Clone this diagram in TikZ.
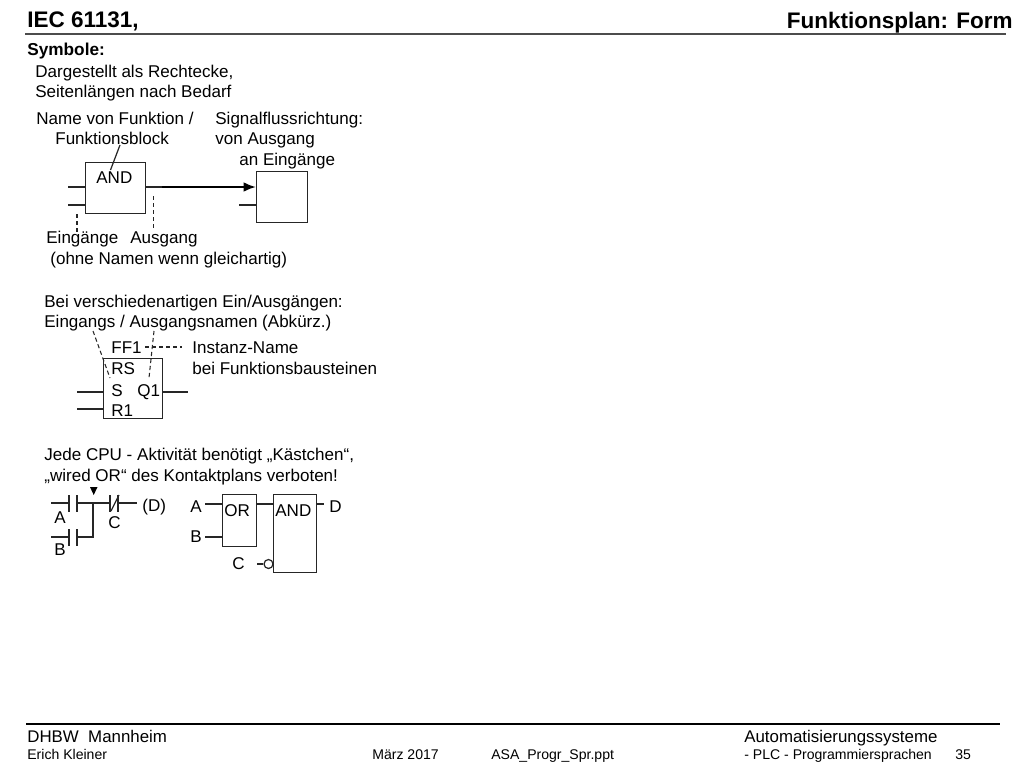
\documentclass[tikz,border=0pt]{standalone}
\usepackage{fontspec}
\setmainfont{Liberation Sans}
\usetikzlibrary{arrows,arrows.meta,calc,positioning}
\tikzset{
  txt/.style={anchor=base west,inner sep=0pt,font=\fontsize{9.7}{11}\selectfont},
  txtbig/.style={anchor=base west,inner sep=0pt,font=\fontsize{12.8}{14}\selectfont\bfseries},
  txtfoot/.style={anchor=base west,inner sep=0pt,font=\fontsize{9.6}{11}\selectfont},
  txtsmall/.style={anchor=base west,inner sep=0pt,font=\fontsize{8}{10}\selectfont},
  blk/.style={draw=black!85,line width=0.7pt,anchor=north west,inner sep=0pt},
  lin/.style={draw=black!85,line width=0.7pt},
  dsh/.style={draw=black!85,line width=0.6pt,dash pattern=on 2.4pt off 1.6pt},
}
\begin{document}
\begin{tikzpicture}[x=0.02cm,y=-0.02cm]
\useasboundingbox (0,0) rectangle (1024,768);
%Kopf und Fuss
\node[txtbig] (titel) at (27,27) {IEC 61131,};
\node[txtbig,anchor=base east] (form) at (1013,28) {Funktionsplan: Form};
\coordinate (kopfL) at (25,34);
\coordinate (kopfR) at (1006,34);
\draw[black!70,line width=0.8pt] (kopfL) -- (kopfR);
\coordinate (fussL) at (26,724);
\coordinate (fussR) at (1000,724);
\draw[black,line width=0.8pt] (fussL) -- (fussR);
\node[txtfoot] (dhbw) at (27,742) {DHBW\ \ Mannheim};
\node[txtfoot] (auto) at (744,742) {Automatisierungssysteme};
\node[txtsmall] (erich) at (27,759.5) {Erich Kleiner};
\node[txtsmall] (datum) at (372,759.5) {März 2017};
\node[txtsmall] (datei) at (491,759.5) {ASA\_Progr\_Spr.ppt};
\node[txtsmall] (plc) at (744,759.5) {- PLC - Programmiersprachen};
\node[txtsmall] (seite) at (955,759.5) {35};
%Symbole
\node[txt,font=\fontsize{9.8}{11}\selectfont\bfseries] (symbole) at (27,55) {Symbole:};
\node[txt] (darg) at (35,77.5) {Dargestellt als Rechtecke,};
\node[txt] (seitenl) at (35,97.5) {Seitenlängen nach Bedarf};
\node[txt] (name) at (36,124) {Name von Funktion /};
\node[txt] (fblock) at (55,144) {Funktionsblock};
\node[txt] (signal) at (215,124) {Signalflussrichtung:};
\node[txt] (vonaus) at (215,144) {von Ausgang};
\node[txt] (anein) at (239,165) {an Eingänge};
\node[blk,minimum width=1.2cm,minimum height=1.02cm] (andblk) at (85,162) {};
\node[blk,minimum width=1.02cm,minimum height=1.02cm] (zielblk) at (256,171) {};
\node[txt] (andtxt) at (96,183) {AND};
\coordinate (e1) at (68,187);
\coordinate (e2) at (68,205);
\coordinate (e3) at (239,205);
\coordinate (a1) at (162,187);
\coordinate (z1) at (256,187);
\draw[lin] (e1) -- (e1 -| andblk.west);
\draw[lin] (e2) -- (e2 -| andblk.west);
\draw[lin] (e3) -- (e3 -| zielblk.west);
\draw[lin] (a1 -| andblk.east) -- (a1);
\draw[black,line width=1.2pt,-{Latex[length=7pt,width=5.5pt]}] (a1) -- (z1);
\coordinate (n1) at (120,145);
\coordinate (n2) at (110.5,170);
\draw[lin] (n1) -- (n2);
\coordinate (d1) at (77,214);
\coordinate (d2) at (77,232);
\coordinate (d3) at (153.5,196);
\coordinate (d4) at (153.5,229);
\draw[dsh] (d1) -- (d2);
\draw[dsh] (d3) -- (d4);
\node[txt] (eing) at (46,243) {Eingänge};
\node[txt] (ausg) at (130,243) {Ausgang};
\node[txt] (ohne) at (50,264) {(ohne Namen wenn gleichartig)};
%Verschiedenartige Ein/Ausgaenge
\node[txt] (bei) at (44,307) {Bei verschiedenartigen Ein/Ausgängen:};
\node[txt] (eingn) at (44,327) {Eingangs / Ausgangsnamen (Abkürz.)};
\node[blk,minimum width=1.18cm,minimum height=1.2cm] (rsblk) at (103,358) {};
\node[txt] (ff) at (111,353) {FF1};
\node[txt] (inst) at (192,353) {Instanz-Name};
\node[txt] (bfb) at (192,374) {bei Funktionsbausteinen};
\node[txt] (rs) at (111,374) {RS};
\node[txt] (s) at (111,396) {S};
\node[txt] (q) at (137,396) {Q1};
\node[txt] (r) at (111,416) {R1};
\coordinate (s1) at (77,392);
\coordinate (s2) at (77,409);
\coordinate (s3) at (188,392);
\draw[lin] (s1) -- (s1 -| rsblk.west);
\draw[lin] (s2) -- (s2 -| rsblk.west);
\draw[lin] (s3 -| rsblk.east) -- (s3);
\coordinate (h1) at (93,331);
\coordinate (h2) at (110,378);
\coordinate (h3) at (154,331);
\coordinate (h4) at (149,378);
\coordinate (h5) at (145,347);
\coordinate (h6) at (182,347);
\draw[dsh] (h1) -- (h2);
\draw[dsh] (h3) -- (h4);
\draw[dsh] (h5) -- (h6);
%Kontaktplan und FUP
\node[txt] (jede) at (44,460) {Jede CPU - Aktivität benötigt „Kästchen“,};
\node[txt] (wired) at (44,481) {„wired OR“ des Kontaktplans verboten!};
\foreach \x in {69,77,110,118}{
\draw[lin] (\x,495) -- (\x,512);
}
\foreach \x in {69,77}{
\draw[lin] (\x,529) -- (\x,546);
}
\coordinate (k1) at (51,503);
\coordinate (k2) at (51,537);
\coordinate (k3) at (93,503);
\coordinate (k4) at (137,503);
\draw[lin] (k1) -- ++(18,0);
\draw[lin] (77,503) -- (110,503);
\draw[lin] (118,503) -- (k4);
\draw[lin] (k2) -- ++(18,0);
\draw[lin] (77,537) -- (93,537) -- (k3);
\draw[lin] (111,511) -- (119,495);
\fill[black] (90,487) -- (97.5,487) -- (93.7,495) -- cycle;
\node[txt] (kd) at (142,511) {(D)};
\node[txt] (ka) at (54,523) {A};
\node[txt] (kc) at (108,528) {C};
\node[txt] (kb) at (54,555) {B};
\node[blk,minimum width=0.68cm,minimum height=1.04cm] (orblk) at (222,494) {};
\node[blk,minimum width=0.86cm,minimum height=1.56cm] (undblk) at (273,494) {};
\node[draw=black!85,line width=0.7pt,circle,inner sep=0pt,minimum size=0.18cm] (neg) at (268.5,564) {};
\node[txt] (fa) at (190,512) {A};
\node[txt] (fb) at (190,542) {B};
\node[txt] (fc) at (232,569) {C};
\node[txt] (fd) at (329,512) {D};
\node[txt] (ortxt) at (224,516) {OR};
\node[txt] (undtxt) at (275,516) {AND};
\coordinate (f1) at (205,504);
\coordinate (f2) at (205,537);
\coordinate (f3) at (257,564);
\coordinate (f4) at (324,504);
\coordinate (f5) at (256,504);
\draw[lin] (f1) -- (f1 -| orblk.west);
\draw[lin] (f2) -- (f2 -| orblk.west);
\draw[lin] (f3) -- (neg.west);
\draw[lin] (f5) -- (f5 -| undblk.west);
\draw[lin] (f4 -| undblk.east) -- (f4);
\end{tikzpicture}
\end{document}
